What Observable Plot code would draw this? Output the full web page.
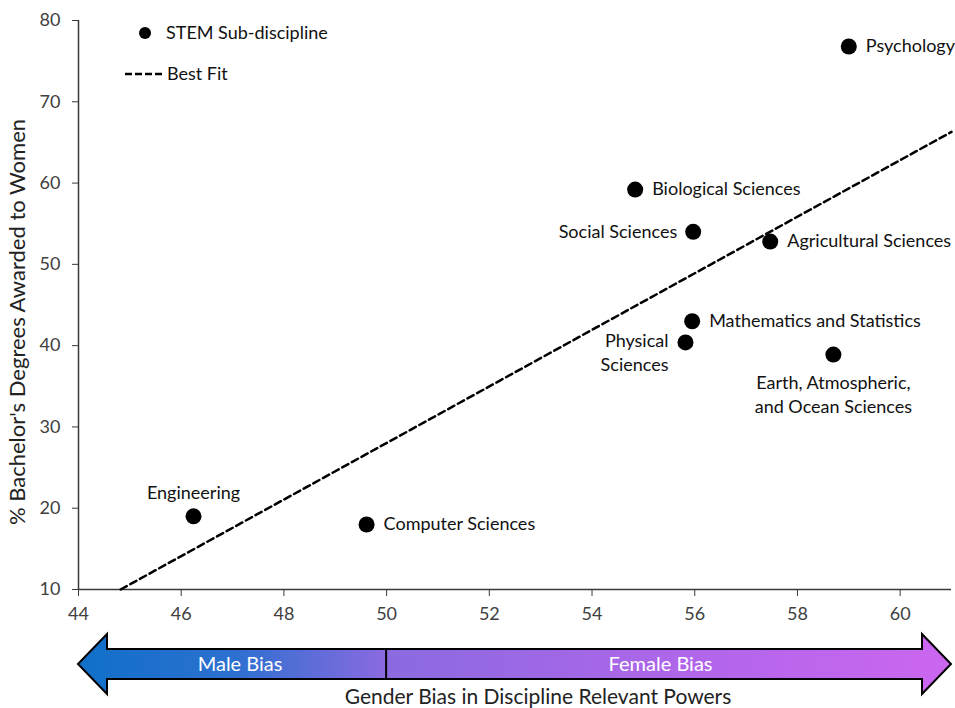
<!DOCTYPE html>
<html>
<head>
<meta charset="utf-8">
<script src="https://cdn.jsdelivr.net/npm/d3@7"></script>
<script src="https://cdn.jsdelivr.net/npm/@observablehq/plot@0.6"></script>
<style>
  html, body { margin: 0; padding: 0; background: #fff; }
  #chart { position: relative; width: 955px; height: 708px; }
</style>
</head>
<body>
<div id="chart"></div>
<script>
// ---- data ----
const categories = ["Psychology", "Biological Sciences", "Social Sciences", "Agricultural Sciences",
  "Mathematics and Statistics", "Physical\nSciences", "Earth, Atmospheric,\nand Ocean Sciences",
  "Engineering", "Computer Sciences"];
const biasScores = [59.0, 54.84, 55.97, 57.47, 55.95, 55.82, 58.70, 46.24, 49.61];
const pctWomen   = [76.8, 59.2, 54.0, 52.8, 43.0, 40.4, 38.9, 19.0, 18.0];
const labelPos   = ["right", "right", "left", "right", "right", "left2", "below", "above", "right"];
const fitX = [44.82, 61.0];
const fitY = [10.0, 66.3];
const xTicks = [44, 46, 48, 50, 52, 54, 56, 58, 60];
const yTicks = [10, 20, 30, 40, 50, 60, 70, 80];
const biasLabels = ["Male Bias", "Female Bias"];
const biasSplit = 50;

const points = categories.map((c, i) => ({name: c, x: biasScores[i], y: pctWomen[i], pos: labelPos[i]}));
const fit = fitX.map((x, i) => ({x, y: fitY[i]}));
const axisColor = "#3a3a3a";
const FONT = "Lato, 'Open Sans', sans-serif";
const FS = 18;

const byPos = p => points.filter(d => d.pos === p);

const plot = Plot.plot({
  width: 955,
  height: 708,
  marginLeft: 78,
  marginRight: 4,
  marginTop: 20,
  marginBottom: 119,
  style: {fontFamily: FONT, background: "#fff", color: "#000"},
  x: {domain: [44, 61]},
  y: {domain: [10, 80]},
  marks: [
    Plot.axisX({ticks: xTicks, tickSize: 7, tickPadding: 11, fontSize: 18, label: null, stroke: axisColor, color: "#404040"}),
    Plot.axisY({ticks: yTicks, tickSize: 6, tickPadding: 12, fontSize: 18, label: null, stroke: axisColor, color: "#404040"}),
    Plot.ruleX([44], {stroke: axisColor, strokeWidth: 1.5}),
    Plot.ruleY([10], {stroke: axisColor, strokeWidth: 1.5}),
    Plot.line(fit, {x: "x", y: "y", stroke: "#000", strokeWidth: 2.5, strokeDasharray: "7,4"}),
    Plot.dot(points, {x: "x", y: "y", r: 8, fill: "#000", stroke: "none"}),
    Plot.text(byPos("right"), {x: "x", y: "y", text: "name", textAnchor: "start", dx: 17, fontSize: FS, fill: "#111"}),
    Plot.text(byPos("left"), {x: "x", y: "y", text: "name", textAnchor: "end", dx: -16, fontSize: FS, fill: "#111"}),
    Plot.text(byPos("left2"), {x: "x", y: "y", text: "name", textAnchor: "end", dx: -17, lineAnchor: "top", dy: -12, lineHeight: 1.33, fontSize: FS, fill: "#111"}),
    Plot.text(byPos("below"), {x: "x", y: "y", text: "name", textAnchor: "middle", lineAnchor: "top", dy: 18, lineHeight: 1.3, fontSize: FS, fill: "#111"}),
    Plot.text(byPos("above"), {x: "x", y: "y", text: "name", textAnchor: "middle", lineAnchor: "bottom", dy: -17, fontSize: FS, fill: "#111"})
  ]
});

document.getElementById("chart").appendChild(plot);

// ---- decorations: legend, axis titles, bias arrow ----
const svg = d3.select(plot);
const xs = plot.scale("x");
const X = v => xs.apply(v);

// y-axis title
svg.append("text")
  .attr("transform", "translate(25,322) rotate(-90)")
  .attr("text-anchor", "middle")
  .attr("font-family", FONT).attr("font-size", 22).attr("fill", "#222")
  .text("% Bachelor's Degrees Awarded to Women");

// legend
svg.append("circle").attr("cx", 145).attr("cy", 33).attr("r", 6).attr("fill", "#000");
svg.append("text").attr("x", 166).attr("y", 33).attr("dy", "0.35em").attr("text-anchor", "start")
  .attr("font-family", FONT).attr("font-size", FS).attr("fill", "#111").text("STEM Sub-discipline");
svg.append("line").attr("x1", 125).attr("x2", 163).attr("y1", 74).attr("y2", 74)
  .attr("stroke", "#000").attr("stroke-width", 2.5).attr("stroke-dasharray", "7,3");
svg.append("text").attr("x", 167).attr("y", 74).attr("dy", "0.35em").attr("text-anchor", "start")
  .attr("font-family", FONT).attr("font-size", FS).attr("fill", "#111").text("Best Fit");

// gradient arrow
const x0 = X(44), x1 = X(61), xm = X(biasSplit);
const yc = 664, shaftH = 15, headH = 30, headW = 29;
const defs = svg.append("defs");
const grad = defs.append("linearGradient").attr("id", "biasGrad")
  .attr("gradientUnits", "userSpaceOnUse").attr("x1", x0).attr("x2", x1).attr("y1", 0).attr("y2", 0);
grad.append("stop").attr("offset", "0%").attr("stop-color", "#1070c8");
grad.append("stop").attr("offset", "18%").attr("stop-color", "#2d70d0");
grad.append("stop").attr("offset", "35%").attr("stop-color", "#8a6ae0");
grad.append("stop").attr("offset", "70%").attr("stop-color", "#b066ea");
grad.append("stop").attr("offset", "100%").attr("stop-color", "#cc66f0");

const pts = [
  [x0, yc], [x0 + headW, yc - headH], [x0 + headW, yc - shaftH],
  [x1 - headW, yc - shaftH], [x1 - headW, yc - headH], [x1, yc],
  [x1 - headW, yc + headH], [x1 - headW, yc + shaftH],
  [x0 + headW, yc + shaftH], [x0 + headW, yc + headH]
];
svg.append("polygon").attr("points", pts.map(p => p.join(",")).join(" "))
  .attr("fill", "url(#biasGrad)").attr("stroke", "#000").attr("stroke-width", 2).attr("stroke-linejoin", "miter");
svg.append("line").attr("x1", xm).attr("x2", xm).attr("y1", yc - shaftH).attr("y2", yc + shaftH)
  .attr("stroke", "#000").attr("stroke-width", 2);

svg.append("text").attr("x", (x0 + xm) / 2 + 8).attr("y", yc).attr("dy", "0.35em").attr("text-anchor", "middle")
  .attr("font-family", FONT).attr("font-size", 20).attr("fill", "#fff").text(biasLabels[0]);
svg.append("text").attr("x", (xm + x1) / 2 - 8).attr("y", yc).attr("dy", "0.35em").attr("text-anchor", "middle")
  .attr("font-family", FONT).attr("font-size", 20).attr("fill", "#fff").text(biasLabels[1]);

// x-axis title
svg.append("text").attr("x", 538).attr("y", 704).attr("text-anchor", "middle")
  .attr("font-family", FONT).attr("font-size", 21).attr("fill", "#222")
  .text("Gender Bias in Discipline Relevant Powers");
</script>
</body>
</html>
